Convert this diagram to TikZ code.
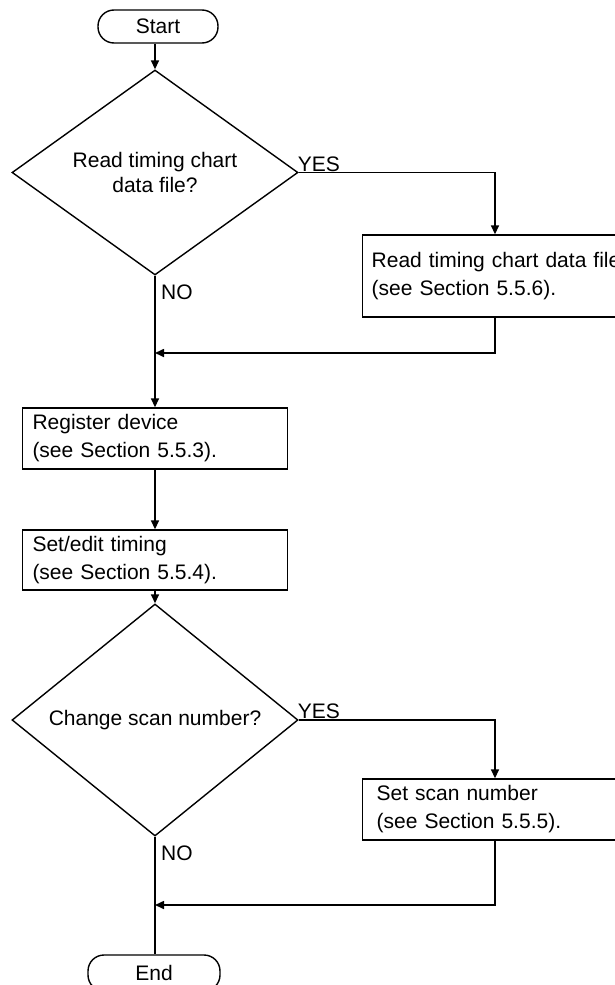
\documentclass[tikz,border=0pt]{standalone}
\usepackage{fontspec}
\setmainfont{Liberation Sans}
\usetikzlibrary{shapes.geometric,arrows.meta}
\begin{document}
\begin{tikzpicture}[x=1pt,y=-1pt,
  every node/.style={font=\fontsize{21}{28}\selectfont},
  ln/.style={line width=1.6pt},
  arr/.style={ln,-{Triangle[length=9pt,width=8pt]}},
  term/.style={draw,line width=1.4pt,rounded corners=16pt,minimum height=36pt,inner sep=0pt},
  proc/.style={draw,line width=1.4pt,align=left,inner ysep=0pt},
  dec/.style={draw,diamond,line width=1.4pt,inner sep=0pt,minimum width=286pt,minimum height=135pt,align=center,font=\fontsize{21}{25}\selectfont},
  lab/.style={inner sep=1pt}]
\useasboundingbox (0,0) rectangle (615,985);
\clip (0,0) rectangle (615,985);

\node[term,minimum width=120pt,minimum height=33pt] (start) at (158,26.5) {Start};
\node[dec] (d1) at (155,172.5) {Read timing chart\\data file?};
\node[proc,anchor=west,text width=262pt,inner xsep=9pt,minimum height=82pt] (rd) at (362,276) {Read timing chart data file\\(see Section 5.5.6).};
\node[proc,text width=245pt,inner xsep=10pt,minimum height=61pt] (reg) at (155,438.5) {Register device\\(see Section 5.5.3).};
\node[proc,text width=245pt,inner xsep=10pt,minimum height=60pt] (set) at (155,560) {Set/edit timing\\(see Section 5.5.4).};
\node[dec] (d2) at (155,720) {Change scan number?};
\node[proc,anchor=west,text width=258pt,inner xsep=14pt,minimum height=61pt] (sc) at (362,809.5) {Set scan number\\(see Section 5.5.5).};
\node[term,minimum width=132pt] (en) at (154,973) {End};

\coordinate (m1) at (155,353);
\coordinate (m2) at (155,905);

\node[lab,anchor=south west,xshift=-2pt] (y1) at (d1.east) {YES};
\node[lab,anchor=north west,xshift=5pt,yshift=-8pt] (n1) at (d1.south) {NO};
\node[lab,anchor=south west,xshift=-2pt] (y2) at (d2.east) {YES};
\node[lab,anchor=north west,xshift=5pt,yshift=-8pt] (n2) at (d2.south) {NO};

\draw[arr] (d1.north |- start.south) -- (d1.north);
\draw[arr] (d1.east) -| ([xshift=133pt]rd.north west);
\draw[arr] ([xshift=133pt]rd.south west) |- (m1);
\draw[arr] (d1.south) -- (reg.north);
\draw[arr] (reg.south) -- (set.north);
\draw[arr] (set.south) -- (d2.north);
\draw[arr] (d2.east) -| ([xshift=133pt]sc.north west);
\draw[arr] ([xshift=133pt]sc.south west) |- (m2);
\draw[ln] (d2.south) -- (d2.south |- en.north);
\end{tikzpicture}
\end{document}
